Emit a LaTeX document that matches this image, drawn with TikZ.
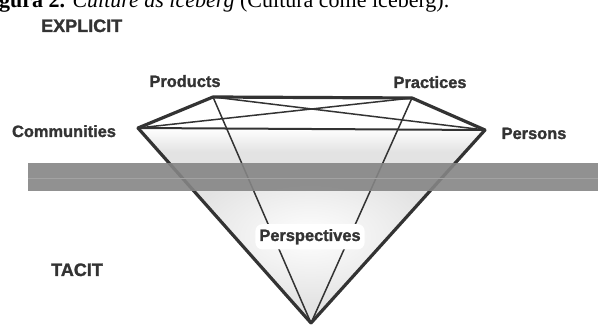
\documentclass[tikz,border=0pt]{standalone}
\usepackage{fontspec}
\setmainfont{Liberation Serif}
\newfontfamily\labelfont{Liberation Sans Bold}[FakeBold=1.4]
\usetikzlibrary{fadings}

\definecolor{ink}{gray}{0.2}
\definecolor{tint}{gray}{0.89}
\definecolor{bandgray}{gray}{0.52}
\definecolor{bandline}{gray}{0.64}

\tikzfading[name=glowfade, inner color=transparent!0, outer color=transparent!100]

\tikzset{
  vertexlabel/.style={font=\labelfont\fontsize{16.4}{18}\selectfont, text=ink, inner sep=0pt, anchor=base},
  regionlabel/.style={font=\labelfont\fontsize{18}{20}\selectfont, text=ink, inner sep=0pt, anchor=base west},
  rimedge/.style={draw=ink, line width=3.2pt, line join=round, line cap=round},
  tieedge/.style={draw=ink, line width=1.5pt, line cap=round},
  chordedge/.style={draw=ink, line width=2pt, line cap=round},
}

\begin{document}
\begin{tikzpicture}[x=1pt, y=-1pt]
  \useasboundingbox (0,0) rectangle (598,326);

  % caption line running off the top edge
  \begin{scope}
    \clip (0,0) rectangle (598,326);
    \node (caption) [anchor=base west, inner sep=0pt, font=\fontsize{22}{24}\selectfont]
      at (-1,8) {\textbf{gura 2.} \textit{Culture as iceberg} (Cultura come iceberg).};
  \end{scope}

  % corners of the iceberg
  \coordinate (com)  at (138,128);
  \coordinate (prod) at (213,97);
  \coordinate (prac) at (412,98);
  \coordinate (pers) at (485,130);
  \coordinate (apex) at (311,323);

  % shaded body of the cone
  \begin{scope}
    \clip (com) -- (pers) -- (apex) -- cycle;
    \fill[tint] (com) -- (pers) -- (apex) -- cycle;
    \fill[top color=white, bottom color=tint] (120,128) rectangle (500,152);
    \fill[white, path fading=glowfade] (310,236) ellipse [x radius=130, y radius=70];
  \end{scope}

  % rim and flanks
  \draw[rimedge] (com) -- (prod);
  \draw[rimedge] (prod) -- (prac);
  \draw[rimedge] (prac) -- (pers);
  \draw[rimedge] (com) -- (apex);
  \draw[rimedge] (pers) -- (apex);

  % inner ties
  \draw[chordedge] (com) -- (pers);
  \draw[tieedge] (com) -- (prac);
  \draw[tieedge] (prod) -- (pers);
  \draw[tieedge] (prod) -- (apex);
  \draw[tieedge] (prac) -- (apex);

  % waterline band
  \fill[bandgray, opacity=0.9] (28,163) rectangle (598,191);
  \draw[bandline, line width=0.8pt] (28,178) -- (598,178);

  % labels
  \node (lprod) [vertexlabel] at (185,87)  {Products};
  \node (lprac) [vertexlabel] at (430,88)  {Practices};
  \node (lcom)  [vertexlabel] at (64,137)  {Communities};
  \node (lpers) [vertexlabel] at (534,139) {Persons};
  \node (lpersp) [vertexlabel, fill=white, inner xsep=4pt, inner ysep=5pt, rounded corners=7pt] at (310,241) {Perspectives};

  \node (explicit) [regionlabel] at (41,32)  {EXPLICIT};
  \node (tacit)    [regionlabel] at (51,276) {TACIT};
\end{tikzpicture}
\end{document}
